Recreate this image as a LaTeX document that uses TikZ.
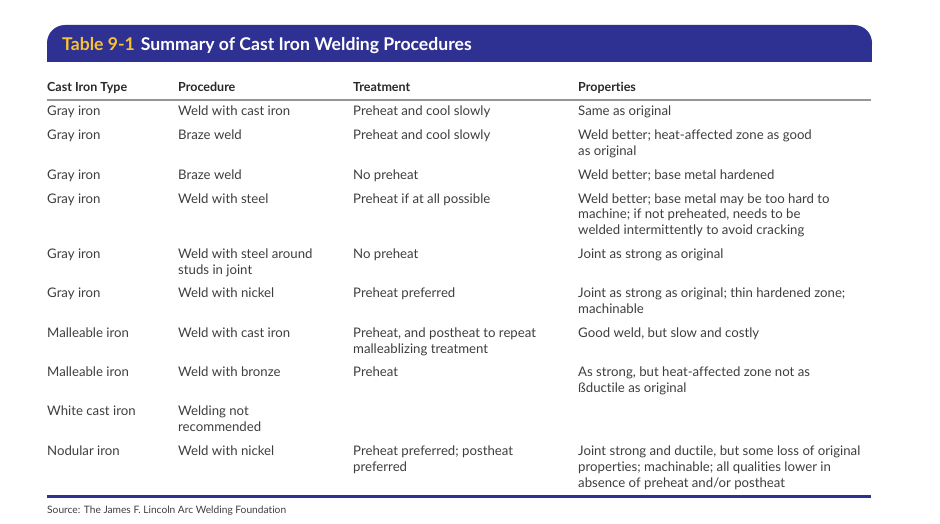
\documentclass[tikz,border=0pt]{standalone}
\usepackage{fontspec}
\setmainfont{Lato}[Ligatures=CommonOff]
\usetikzlibrary{positioning}
\definecolor{bannerblue}{RGB}{46,49,146}
\definecolor{titleyellow}{RGB}{248,194,50}
\definecolor{textgray}{RGB}{62,62,66}
\definecolor{headgray}{RGB}{40,40,44}
\definecolor{rulegray}{RGB}{150,150,150}
% cell text set line by line, baseline at the first line
\newcommand{\celllines}[1]{\begin{tabular}[t]{@{}l@{}}#1\end{tabular}}

\begin{document}
\begin{tikzpicture}[
    x=1pt, y=-1pt,
    cell/.style={anchor=base west, inner sep=0pt, text=textgray, font=\fontsize{13.2}{16}\selectfont},
    headcell/.style={cell, text=headgray, font=\fontsize{12.5}{16}\selectfont\bfseries},
    title/.style={anchor=base west, inner sep=0pt, text=white, font=\fontsize{17.6}{20}\selectfont\bfseries},
    source/.style={anchor=base west, inner sep=0pt, text=textgray, font=\fontsize{10.2}{12}\selectfont}
]
\useasboundingbox (0,0) rectangle (940,524);

% Title banner
\fill[bannerblue, rounded corners=18pt] (47,62) -- (47,25) -- (872,25) -- (872,62) [sharp corners] -- cycle;
\fill[bannerblue] (47,45) rectangle (872,62);
\node[title] (title) at (62,51) {\textcolor{titleyellow}{Table 9-1}\hspace{0.35em}Summary of Cast Iron Welding Procedures};

% Column heads
\node[headcell] (htype) at (47,92) {Cast Iron Type};
\node[headcell] (hproc) at (178,92) {Procedure};
\node[headcell] (htreat) at (353,92) {Treatment};
\node[headcell] (hprop) at (578,92) {Properties};
\draw[rulegray, line width=1.2pt] (47,100) -- (871,100);

% Rows
\node[cell] (type1) at (47,116) {Gray iron};
\node[cell] (proc1) at (178,116) {Weld with cast iron};
\node[cell] (treat1) at (353,116) {Preheat and cool slowly};
\node[cell] (prop1) at (578,116) {Same as original};

\node[cell] (type2) at (47,140) {Gray iron};
\node[cell] (proc2) at (178,140) {Braze weld};
\node[cell] (treat2) at (353,140) {Preheat and cool slowly};
\node[cell] (prop2) at (578,140) {\celllines{Weld better; heat-affected zone as good\\as original}};

\node[cell] (type3) at (47,179) {Gray iron};
\node[cell] (proc3) at (178,179) {Braze weld};
\node[cell] (treat3) at (353,179) {No preheat};
\node[cell] (prop3) at (578,179) {Weld better; base metal hardened};

\node[cell] (type4) at (47,203) {Gray iron};
\node[cell] (proc4) at (178,203) {Weld with steel};
\node[cell] (treat4) at (353,203) {Preheat if at all possible};
\node[cell] (prop4) at (578,203) {\celllines{Weld better; base metal may be too hard to\\machine; if not preheated, needs to be\\welded intermittently to avoid cracking}};

\node[cell] (type5) at (47,258) {Gray iron};
\node[cell] (proc5) at (178,258) {\celllines{Weld with steel around\\studs in joint}};
\node[cell] (treat5) at (353,258) {No preheat};
\node[cell] (prop5) at (578,258) {Joint as strong as original};

\node[cell] (type6) at (47,297) {Gray iron};
\node[cell] (proc6) at (178,297) {Weld with nickel};
\node[cell] (treat6) at (353,297) {Preheat preferred};
\node[cell] (prop6) at (578,297) {\celllines{Joint as strong as original; thin hardened zone;\\machinable}};

\node[cell] (type7) at (47,337) {Malleable iron};
\node[cell] (proc7) at (178,337) {Weld with cast iron};
\node[cell] (treat7) at (353,337) {\celllines{Preheat, and postheat to repeat\\malleablizing treatment}};
\node[cell] (prop7) at (578,337) {Good weld, but slow and costly};

\node[cell] (type8) at (47,376) {Malleable iron};
\node[cell] (proc8) at (178,376) {Weld with bronze};
\node[cell] (treat8) at (353,376) {Preheat};
\node[cell] (prop8) at (578,376) {\celllines{As strong, but heat-affected zone not as\\ßductile as original}};

\node[cell] (type9) at (47,415) {White cast iron};
\node[cell] (proc9) at (178,415) {\celllines{Welding not\\recommended}};

\node[cell] (type10) at (47,455) {Nodular iron};
\node[cell] (proc10) at (178,455) {Weld with nickel};
\node[cell] (treat10) at (353,455) {\celllines{Preheat preferred; postheat\\preferred}};
\node[cell] (prop10) at (578,455) {\celllines{Joint strong and ductile, but some loss of original\\properties; machinable; all qualities lower in\\absence of preheat and/or postheat}};

% Foot rule and source
\draw[bannerblue, line width=2.6pt] (47,496.5) -- (871,496.5);
\node[source] (src) at (47,513) {Source: The James F. Lincoln Arc Welding Foundation};

\end{tikzpicture}
\end{document}
